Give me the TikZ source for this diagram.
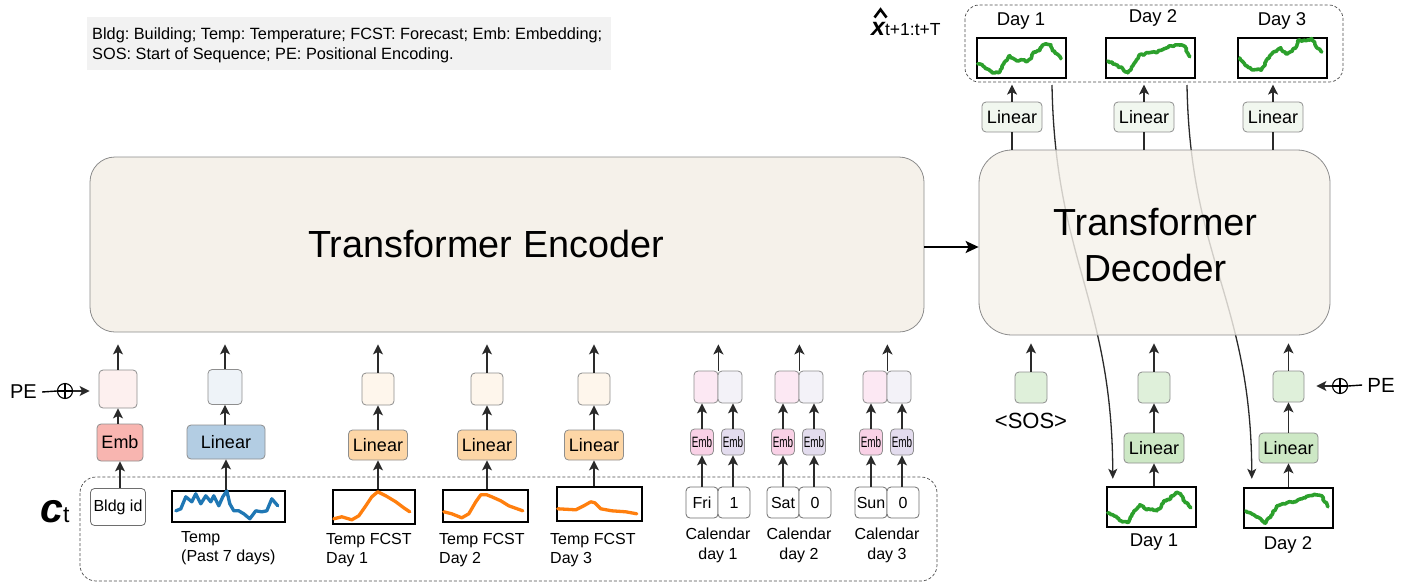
\documentclass[tikz,border=0pt]{standalone}
\usepackage{fontspec}
\setmainfont{Liberation Sans}
\newfontfamily\condfont[FakeStretch=0.66]{Liberation Sans}
\usetikzlibrary{arrows.meta,decorations.pathmorphing,calc}
\frenchspacing

\definecolor{encfill}{HTML}{F5F1EA}
\definecolor{encdraw}{HTML}{8C8C8C}
\definecolor{legendfill}{HTML}{F2F2F2}
\definecolor{boxgray}{HTML}{8E8E8E}
\definecolor{inputgray}{HTML}{6E6E6E}
\definecolor{arrowgray}{HTML}{2A2A2A}
\definecolor{salmon}{HTML}{F8B5B0}
\definecolor{salmonpale}{HTML}{FDF0EF}
\definecolor{steel}{HTML}{B3CDE3}
\definecolor{steelpale}{HTML}{EEF3F8}
\definecolor{apricot}{HTML}{FDD6A6}
\definecolor{apricotpale}{HTML}{FEF6EC}
\definecolor{rose}{HTML}{F9D1E6}
\definecolor{rosepale}{HTML}{FCE8F3}
\definecolor{lav}{HTML}{E3DCEE}
\definecolor{lavpale}{HTML}{F3F2F8}
\definecolor{mint}{HTML}{CDE8C5}
\definecolor{mintpale}{HTML}{DFF0DA}
\definecolor{mintpaler}{HTML}{F1F7EF}
\definecolor{tabblue}{HTML}{1F77B4}
\definecolor{taborange}{HTML}{FF7F0E}
\definecolor{tabgreen}{HTML}{2CA02C}

\begin{document}
\pgfmathsetseed{7}
\begin{tikzpicture}[x=1pt,y=-1pt,
  box/.style={draw=boxgray, line width=0.8pt, rounded corners=4pt, inner sep=0pt,
    align=center, font=\fontsize{18}{20}\selectfont},
  sz/.style 2 args={minimum width=#1pt, minimum height=#2pt},
  inbox/.style={draw=inputgray, line width=0.8pt, rounded corners=4pt, inner sep=0pt,
    fill=white, font=\fontsize{16}{18}\selectfont},
  plotbox/.style={draw=black, line width=2.4pt, inner sep=0pt, fill=white},
  smallemb/.style={box, font=\condfont\fontsize{15}{16}\selectfont, sz={23}{26}},
  arr/.style={-{Stealth[length=10pt,width=10pt,inset=2.5pt]}, line width=1.5pt, draw=arrowgray},
  thinarr/.style={-{Stealth[length=10pt,width=9pt,inset=2.5pt]}, line width=1.3pt, draw=arrowgray},
  bigarr/.style={-{Stealth[length=13pt,width=12pt,inset=3pt]}, line width=2pt, draw=black},
  plain/.style={line width=1.4pt, draw=arrowgray},
  lbl/.style={font=\fontsize{16}{19.5}\selectfont, inner sep=0pt},
  daylbl/.style={font=\fontsize{18.5}{22}\selectfont, inner sep=0pt},
  peplus/.style={circle, draw=black, line width=1.1pt, minimum size=15pt, inner sep=0pt},
  bluel/.style={draw=tabblue, line width=3.3pt, line join=round, line cap=round},
  orangel/.style={draw=taborange, line width=3.3pt, line join=round, line cap=round},
  greenl/.style={draw=tabgreen, line width=3.6pt, line join=round, line cap=round,
    decorate, decoration={random steps, segment length=1.8pt, amplitude=0.9pt}},
]
\useasboundingbox (0,0) rectangle (1411,584);

% ---------- legend ----------
\node[fill=legendfill, minimum width=524pt, minimum height=53pt, inner sep=0pt] (legend) at (348.5,43.5) {};
\node[anchor=west, align=left, font=\fontsize{16.3}{20}\selectfont, inner sep=0pt] (legendtxt) at (92,45)
  {Bldg: Building; Temp: Temperature; FCST: Forecast; Emb: Embedding;\\SOS: Start of Sequence; PE: Positional Encoding.};

% ---------- encoder ----------
\node[draw=encdraw, fill=encfill, rounded corners=25pt, line width=0.8pt,
  minimum width=834pt, minimum height=175pt] (enc) at (507,244.5) {};
\node[font=\fontsize{37.8}{44}\selectfont, inner sep=0pt] (enctxt) at (486,244) {Transformer Encoder};

% ---------- context box ----------
\draw[dashed, draw=black!70, line width=0.7pt, dash pattern=on 3pt off 2pt, rounded corners=16pt]
  (80,477) rectangle (937,581);
\node[anchor=base west, inner sep=0pt] (ct) at (40,522)
  {{\fontsize{41}{41}\selectfont\bfseries\itshape c}{\fontsize{23}{23}\selectfont t}};

% ---------- building id column ----------
\node[inbox, sz={55}{37}] (bldg) at (118,507) {Bldg id};
\node[box, fill=salmon, sz={46}{37}] (emb1) at (120,442.5) {Emb};
\node[box, fill=salmonpale, sz={38}{38}] (sq1) at (118,389) {};
\draw[arr] (bldg.north -| emb1) -- (emb1.south);
\draw[arr] (emb1.north -| sq1) -- (sq1.south);
\draw[arr, shorten >=12pt] (sq1.north) -- (sq1.north |- enc.south);
\node[font=\fontsize{20}{22}\selectfont, inner sep=0pt] (pel) at (23.5,392) {PE};
\node[peplus] (pelc) at (65,391) {};
\draw[line width=1.1pt] (pelc.north) -- (pelc.south) (pelc.west) -- (pelc.east);
\draw[line width=1.4pt] (pel.east) ++(5,0) -- (pelc.west);
\draw[arr, shorten >=9pt] (pelc.east) -- (pelc.east -| sq1.west);

% ---------- past temperature column ----------
\node[plotbox, sz={113}{31}] (p0) at (228.5,506.5) {};
\begin{scope}[shift={(p0.north west)}]
  \draw[bluel] (5,21) -- (10,19) -- (15,7) -- (21,12) -- (25,4) -- (30,14) -- (35,6) -- (40,12)
    -- (43,6) -- (48,16) -- (52,7) -- (56,1) -- (59,14) -- (63,21) -- (68,21) -- (73,24)
    -- (79,29) -- (85,21) -- (91,22) -- (96,21) -- (101,9) -- (107,16);
\end{scope}
\node[box, fill=steel, sz={78}{34}] (lin0) at (226,442) {Linear};
\node[box, fill=steelpale, sz={34}{35}] (sq0) at (225,387) {};
\draw[arr] (p0.north -| lin0) -- (lin0.south);
\draw[arr] (lin0.north -| sq0) -- (sq0.south);
\draw[arr, shorten >=12pt] (sq0.north) -- (sq0.north |- enc.south);
\node[lbl, anchor=north west, align=left] (p0lbl) at (181,531) {Temp\\(Past 7 days)};

% ---------- temperature forecast columns ----------
\node[plotbox, sz={82}{34}] (f1) at (374,507) {};
\node[plotbox, sz={85}{32}] (f2) at (485.5,506) {};
\node[plotbox, sz={85}{34}] (f3) at (599.5,504) {};
\begin{scope}[shift={(f1.north west)}]
  \draw[orangel] (2,30) -- (10,28) -- (20,31) -- (27,27) -- (34,17) -- (40,8) -- (46,3) -- (54,7)
    -- (64,13) -- (72,19) -- (78,23);
\end{scope}
\begin{scope}[shift={(f2.north west)}]
  \draw[orangel] (2,23) -- (10,25) -- (20,29) -- (27,25) -- (34,13) -- (39,6) -- (45,6) -- (50,8)
    -- (59,12) -- (67,17) -- (81,22);
\end{scope}
\begin{scope}[shift={(f3.north west)}]
  \draw[orangel] (2,23) -- (20,24) -- (28,20) -- (35,16) -- (39,17) -- (45,23) -- (56,25)
    -- (70,26) -- (81,28);
\end{scope}
\foreach \i/\cx/\lx in {1/378/326, 2/487/439, 3/594/550} {
  \node[box, fill=apricot, sz={59}{30}] (fl\i) at (\cx,445) {Linear};
  \node[box, fill=apricotpale, sz={32}{32}] (fs\i) at (\cx,389) {};
  \draw[arr] (f\i.north -| fl\i) -- (fl\i.south);
  \draw[arr] (fl\i.north) -- (fs\i.south);
  \draw[arr, shorten >=12pt] (fs\i.north) -- (fs\i.north |- enc.south);
  \node[lbl, anchor=north west, align=left] (fcl\i) at (\lx,533) {Temp FCST\\Day \i};
}

% ---------- calendar columns ----------
\foreach \i/\cx/\dw/\hol in {1/718/Fri/1, 2/799/Sat/0, 3/887/Sun/0} {
  \node[inbox, sz={32}{31}] (cw\i) at (\cx-16,502.5) {\dw};
  \node[inbox, sz={32}{31}] (ch\i) at (\cx+16,502.5) {\hol};
  \node[smallemb, fill=rose] (ew\i) at (\cx-16,442) {Emb};
  \node[smallemb, fill=lav] (eh\i) at (\cx+15,442) {Emb};
  \node[box, fill=rosepale, sz={24}{32}] (sw\i) at (\cx-12,387) {};
  \node[box, fill=lavpale, sz={24}{32}] (sh\i) at (\cx+12,387) {};
  \draw[arr] (cw\i.north -| ew\i) -- (ew\i.south);
  \draw[arr] (ch\i.north -| eh\i) -- (eh\i.south);
  \draw[arr] (ew\i.north) -- (ew\i.north |- sw\i.south);
  \draw[arr] (eh\i.north) -- (eh\i.north |- sh\i.south);
  \draw[arr, shorten >=12pt] (sw\i.north east) -- (sw\i.north east |- enc.south);
  \node[lbl, anchor=north, align=center] (cl\i) at (\cx,528) {Calendar\\day \i};
}

% ---------- decoder inputs ----------
\node[box, fill=mintpale, sz={32}{31}] (sos) at (1031,387.5) {};
\node[font=\fontsize{22}{24}\selectfont, inner sep=0pt] (soslbl) at (1031,421) {<SOS>};

\node[plotbox, sz={89}{40}] (b1) at (1151.5,507) {};
\node[plotbox, sz={89}{40}] (b2) at (1288.5,508) {};
\begin{scope}[shift={(b1.north west)}]
  \draw[greenl] (2,27) -- (7,29) -- (11,32) -- (16,36) -- (23,36) -- (26,30) -- (30,24) -- (34,19)
    -- (38,22) -- (41,24) -- (46,23) -- (51,25) -- (55,22) -- (58,15) -- (63,14) -- (66,10)
    -- (70,7) -- (75,8) -- (77,14) -- (81,17) -- (85,22);
\end{scope}
\begin{scope}[shift={(b2.north west)}]
  \draw[greenl] (3,24) -- (11,28) -- (18,32) -- (23,36) -- (28,29) -- (34,19) -- (44,16)
    -- (53,15) -- (59,12) -- (66,9) -- (73,8) -- (79,9) -- (85,20);
\end{scope}
\node[daylbl] (b1lbl) at (1154,542) {Day 1};
\node[daylbl] (b2lbl) at (1288,545) {Day 2};

\node[box, fill=mint, sz={60}{30}] (bl1) at (1154,448) {Linear};
\node[box, fill=mint, sz={59}{30}] (bl2) at (1288.5,448) {Linear};
\node[box, fill=mintpale, sz={32}{31}] (bs1) at (1154,387.5) {};
\node[box, fill=mintpale, sz={31}{31}] (bs2) at (1288.5,386.5) {};
\draw[arr] (b1.north -| bl1) -- (bl1.south);
\draw[arr] (b2.north -| bl2) -- (bl2.south);
\draw[arr] (bl1.north) -- (bs1.south);
\draw[arr] (bl2.north) -- (bs2.south);

\node[font=\fontsize{20.5}{22}\selectfont, inner sep=0pt] (per) at (1381,385) {PE};
\node[peplus] (perc) at (1340,386) {};
\draw[line width=1.1pt] (perc.north) -- (perc.south) (perc.west) -- (perc.east);
\draw[line width=1.4pt] (per.west) ++(-5,0) -- (perc.east);
\draw[arr, shorten >=12pt] (perc.west) -- (perc.west -| bs2.east);

% ---------- outputs ----------
\draw[dashed, draw=black!70, line width=0.7pt, dash pattern=on 3pt off 2pt, rounded corners=14pt]
  (965,5) rectangle (1343,82);
\node[plotbox, sz={89}{40}] (o1) at (1021.5,58) {};
\node[plotbox, sz={89}{40}] (o2) at (1150.5,58) {};
\node[plotbox, sz={89}{40}] (o3) at (1282.5,58) {};
\begin{scope}[shift={(o1.north west)}]
  \draw[greenl] (2,27) -- (7,29) -- (11,32) -- (16,36) -- (23,36) -- (26,30) -- (30,24) -- (34,19)
    -- (38,22) -- (41,24) -- (46,23) -- (51,25) -- (55,22) -- (58,15) -- (63,14) -- (66,10)
    -- (70,7) -- (75,8) -- (77,14) -- (81,17) -- (85,22);
\end{scope}
\begin{scope}[shift={(o2.north west)}]
  \draw[greenl] (3,24) -- (11,28) -- (18,32) -- (23,36) -- (28,29) -- (34,19) -- (44,16)
    -- (53,15) -- (59,12) -- (66,9) -- (73,8) -- (79,9) -- (85,20);
\end{scope}
\begin{scope}[shift={(o3.north west)}]
  \draw[greenl] (3,21) -- (9,29) -- (15,33) -- (25,33) -- (29,25) -- (35,17) -- (44,11) -- (49,17)
    -- (55,15) -- (60,9) -- (62,3) -- (69,4) -- (75,2) -- (80,11) -- (85,15);
\end{scope}
\node[daylbl] (o1lbl) at (1021,21) {Day 1};
\node[daylbl] (o2lbl) at (1153,18) {Day 2};
\node[daylbl] (o3lbl) at (1282,21) {Day 3};

\node[anchor=base west, inner sep=0pt] (xhat) at (871,35)
  {{\fontsize{25}{25}\selectfont\bfseries\itshape x}{\fontsize{17.5}{18}\selectfont t+1:t+T}};
\draw[line width=2.6pt, line join=miter] (874.5,17.5) -- (880.5,9.5) -- (886.5,17.5);

\node[box, fill=mintpaler, sz={60}{30}] (tl1) at (1012,117) {Linear};
\node[box, fill=mintpaler, sz={60}{30}] (tl2) at (1144,117) {Linear};
\node[box, fill=mintpaler, sz={60}{30}] (tl3) at (1273,117) {Linear};
\foreach \i in {1,2,3} {
  \draw[arr] (tl\i.north) -- ++(0,-17);
}

% ---------- feedback of predicted days ----------
\coordinate (fb1s) at (1052,85);
\coordinate (fb1e) at ($(b1.north west)+(7,-7)$);
\coordinate (fb2s) at (1187,85);
\coordinate (fb2e) at ($(b2.north west)+(9,-8)$);
\draw[thinarr] (fb1s) .. controls (1055,260) and (1112,300) .. (fb1e);
\draw[thinarr] (fb2s) .. controls (1190,260) and (1251,300) .. (fb2e);

% ---------- decoder ----------
\node[draw=encdraw, fill=encfill, fill opacity=0.82, draw opacity=1, rounded corners=33pt,
  line width=0.8pt, minimum width=351pt, minimum height=185pt] (dec) at (1154.5,242.5) {};
\node[font=\fontsize{37.7}{46}\selectfont, align=center, inner sep=0pt] (dectxt) at (1155,245)
  {Transformer\\Decoder};
\draw[bigarr] (enc.east |- 0,247) -- (dec.west |- 0,247);

\foreach \i in {1,2,3} {
  \draw[plain] (tl\i.south) -- (tl\i.south |- dec.north);
}
\draw[arr, shorten >=8pt] (sos.north) -- (sos.north |- dec.south);
\draw[arr, shorten >=8pt] (bs1.north) -- (bs1.north |- dec.south);
\draw[arr, shorten >=8pt] (bs2.north) -- (bs2.north |- dec.south);
\end{tikzpicture}
\end{document}
